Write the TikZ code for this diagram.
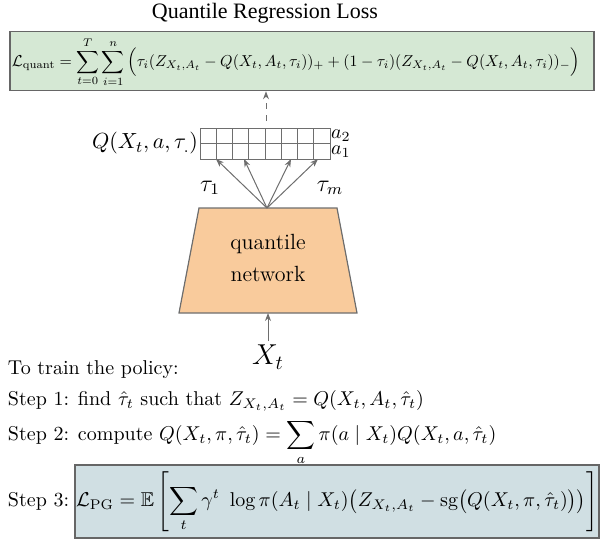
\documentclass[tikz,border=0pt]{standalone}
\usepackage{amsmath,amssymb}
\usepackage{graphicx}
\usepackage{fontspec}
\newfontfamily\titlefont{Liberation Serif}
\usetikzlibrary{arrows.meta}
\definecolor{lossgreen}{HTML}{D5E8D4}
\definecolor{pgblue}{HTML}{D0DFE3}
\definecolor{netorange}{HTML}{F9CB9C}
\definecolor{edgegray}{HTML}{666666}
\definecolor{linegray}{HTML}{6E6E6E}
\tikzset{
  lossbox/.style={draw=edgegray, line width=0.8pt, fill=lossgreen, inner sep=0pt},
  pgbox/.style={draw=edgegray, line width=0.8pt, fill=pgblue, inner sep=0pt},
  conn/.style={draw=linegray, line width=0.5pt, -{Stealth[length=4pt,width=3pt]}},
  cell/.style={draw=linegray, line width=0.5pt},
  plain/.style={inner sep=0pt, outer sep=0pt},
}
\begin{document}
\begin{tikzpicture}[x=0.5pt,y=-0.5pt]
\useasboundingbox (0,0) rectangle (601,543);

% title
\node[plain] (title) at (265,13) {\titlefont\fontsize{11}{13}\selectfont Quantile Regression Loss};

% quantile loss box
\node[lossbox, minimum width=292pt, minimum height=29.5pt] (qloss) at (302,61) {};
\node[plain] (qformula) at (296,62)
 {\resizebox{284pt}{!}{$\displaystyle \mathcal{L}_{\text{quant}} = \sum_{t=0}^{T}\sum_{i=1}^{n}\Big(\tau_i(Z_{X_t,A_t}-Q(X_t,A_t,\tau_i))_+ + (1-\tau_i)(Z_{X_t,A_t}-Q(X_t,A_t,\tau_i))_-\Big)$}};

% grid of quantile values
\foreach \i in {0,...,7}{
  \foreach \j in {0,1}{
    \draw[cell] ({200+16.25*\i},{128+15.5*\j}) rectangle ({200+16.25*(\i+1)},{128+15.5*(\j+1)});
  }
}
\coordinate (losstail) at (266,121);
\draw[conn, dashed] (losstail) -- (qloss.south -| losstail);

\node[plain, anchor=east] (qlabel) at (198,143.5) {\fontsize{11}{13}\selectfont $Q(X_t,a,\tau_.)$};
\node[plain, anchor=west] (a2) at (331,136) {$a_2$};
\node[plain, anchor=west] (a1) at (331,152) {$a_1$};

% quantile network
\coordinate (tl) at (199,208);
\coordinate (tr) at (337,208);
\coordinate (br) at (357,313);
\coordinate (bl) at (179,313);
\draw[draw=linegray, line width=0.6pt, fill=netorange] (tl) -- (tr) -- (br) -- (bl) -- cycle;
\node[plain, align=center, font=\fontsize{11}{16}\selectfont] (net) at (268,258) {quantile\\[0pt]network};
\coordinate (apex) at (267,208);
\coordinate (nbot) at (268,313);

\coordinate (g1) at (216,159);
\coordinate (g2) at (244,159);
\coordinate (g3) at (291,159);
\coordinate (g4) at (318,159);
\foreach \g in {g1,g2,g3,g4}{ \draw[conn] (apex) -- (\g); }
\node[plain] (tau1) at (210,188) {\large $\tau_1$};
\node[plain] (taum) at (330,188) {\large $\tau_m$};

% input
\node[plain] (xt) at (268,357) {\Large $X_t$};
\draw[conn] (xt.north) ++(0,-4) coordinate (xin) (xin) -- (nbot);

% policy training steps
\node[plain, anchor=base west] (s0) at (8,374) {To train the policy:};
\node[plain, anchor=base west] (s1) at (8,405) {Step 1: find $\hat\tau_t$ such that $Z_{X_t,A_t}=Q(X_t,A_t,\hat\tau_t)$};
\node[plain, anchor=base west] (s2) at (8,440) {Step 2: compute $\displaystyle Q(X_t,\pi,\hat\tau_t)=\sum_a \pi(a\mid X_t)Q(X_t,a,\hat\tau_t)$};
\node[plain, anchor=west] (s3) at (8,501) {Step 3:};
\node[pgbox, minimum width=262pt, minimum height=36.5pt] (pg) at (337,501.5)
 {$\displaystyle \mathcal{L}_{\text{PG}}=\mathbb{E}\left[\sum_t \gamma^t\ \log\pi(A_t\mid X_t)\bigl(Z_{X_t,A_t}-\operatorname{sg}\bigl(Q(X_t,\pi,\hat\tau_t)\bigr)\bigr)\right]$};
\end{tikzpicture}
\end{document}
